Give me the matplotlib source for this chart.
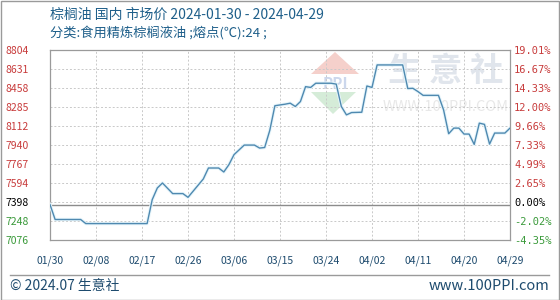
import matplotlib
matplotlib.use("Agg")
import matplotlib.pyplot as plt
import matplotlib.dates as mdates
from matplotlib.patches import Polygon, Rectangle
import numpy as np
import datetime as dt

plt.rcParams['font.family'] = ['Noto Sans CJK SC', 'DejaVu Sans']

# ---- data ----
start = dt.date(2024, 1, 30)
day_offsets = [0, 1, 6, 7, 19, 20, 21, 22, 24, 26, 27, 30, 31, 33, 34, 35, 36, 38, 40, 41,
               42, 43, 44, 46, 47, 48, 49, 50, 51, 52, 55, 56, 57, 58, 59, 61, 62, 63, 64, 69,
               70, 71, 72, 73, 76, 77, 78, 79, 80, 81, 82, 83, 84, 85, 86, 87, 89, 90]
prices = [7398, 7262, 7262, 7225, 7225, 7442, 7548, 7593, 7497, 7497, 7463, 7630, 7729, 7729, 7693, 7759, 7850, 7937, 7937, 7910,
          7915, 8070, 8294, 8308, 8317, 8287, 8332, 8467, 8460, 8498, 8498, 8490, 8287, 8211, 8232, 8235, 8473, 8460, 8664, 8664,
          8450, 8452, 8422, 8388, 8388, 8257, 8040, 8091, 8091, 8037, 8037, 7943, 8136, 8125, 7946, 8046, 8046, 8091]
base_value = 7398
left_labels = ["7076", "7248", "7398", "7594", "7767", "7940", "8112", "8285", "8458", "8631", "8804"]
right_labels = ["-4.35%", "-2.02%", "0.00%", "2.65%", "4.99%", "7.33%", "9.66%", "12.00%", "14.33%", "16.67%", "19.01%"]
x_labels = ["01/30", "02/08", "02/17", "02/26", "03/06", "03/15", "03/24", "04/02", "04/11", "04/20", "04/29"]
title = "棕榈油 国内 市场价 2024-01-30 - 2024-04-29"
subtitle = "分类:食用精炼棕榈液油 ;熔点(℃):24 ;"

dates = [start + dt.timedelta(days=d) for d in day_offsets]

W, H = 560, 300
fig = plt.figure(figsize=(W / 100, H / 100), dpi=100)
fig.patch.set_facecolor('white')

def fx(px):
    return px / W

def fy(py):
    return 1 - py / H

ax = fig.add_axes([fx(50), fy(240), fx(510) - fx(50), fy(49.5) - fy(240)])

ymin, ymax = 7076, 8804
ax.set_ylim(ymin, ymax)
xmin = start
xmax = start + dt.timedelta(days=90)
ax.set_xlim(mdates.date2num(xmin), mdates.date2num(xmax))

yticks = np.linspace(ymin, ymax, len(left_labels))
ax.set_yticks(yticks)
ax.set_yticklabels(left_labels)
xtick_dates = [start + dt.timedelta(days=9 * i) for i in range(len(x_labels))]
ax.set_xticks([mdates.date2num(d) for d in xtick_dates])
ax.set_xticklabels(x_labels)

ax.grid(True, color='#c9c9c9', linestyle=(0, (2, 2)), linewidth=0.7)
ax.tick_params(axis='both', length=0, labelsize=7.5)
ax.tick_params(axis='x', colors='#1e4b6e', pad=11)
ax.tick_params(axis='y', pad=32)
for lab, v in zip(ax.get_yticklabels(), left_labels):
    val = float(v)
    lab.set_horizontalalignment('left')
    lab.set_color('#000000' if abs(val - base_value) < 1 else ('#c83c3c' if val > base_value else '#3a9a3a'))
for sp in ax.spines.values():
    sp.set_color('#9a9a9a')
    sp.set_linewidth(0.9)

ax2 = ax.twinx()
ax2.set_ylim(ymin, ymax)
ax2.set_yticks(yticks)
ax2.set_yticklabels(right_labels)
ax2.tick_params(axis='y', length=0, labelsize=7.5, pad=3)
for lab, v in zip(ax2.get_yticklabels(), right_labels):
    val = float(v.strip('%'))
    lab.set_color('#000000' if val == 0 else ('#c83c3c' if val > 0 else '#3a9a3a'))
    lab.set_family(['DejaVu Sans Mono', 'DejaVu Sans'])
for sp in ax2.spines.values():
    sp.set_visible(False)

# watermark
wm_col = '#d4dae4'
fig.text(fx(446), fy(72), "生 意 社", fontsize=24, color=wm_col, ha='center', va='center',
         fontweight='bold', alpha=0.7, zorder=0)
fig.text(fx(446), fy(107), "WWW.100PPI.COM", fontsize=10.5, color='#e8e8e8', ha='center', va='center', zorder=0)
roof = Polygon([[fx(335), fy(52)], [fx(311), fy(74)], [fx(359), fy(74)]], closed=True,
               transform=fig.transFigure, facecolor='#f5d0cb', edgecolor='none', zorder=0)
green = Polygon([[fx(311), fy(92)], [fx(356), fy(92)], [fx(333), fy(114)]], closed=True,
                transform=fig.transFigure, facecolor='#d5ecd8', edgecolor='none', zorder=0)
fig.patches.extend([roof, green])
fig.text(fx(335), fy(84), "PPI", fontsize=11, color='#ccd7ec', ha='center', va='center',
         fontweight='bold', zorder=0)

ax.set_facecolor('none')
ax.set_zorder(2)
ax2.set_zorder(1)

ax.axhline(base_value, color='#8c8c8c', linewidth=1.0, zorder=2)
ax.plot(dates, prices, color='#e6f5fb', linewidth=2.4, zorder=3, solid_joinstyle='round')
ax.plot(dates, prices, color='#4f89b0', linewidth=1.0, zorder=4)

# titles
fig.text(fx(50), fy(15), title, fontsize=10, color='#1e5f8a', ha='left', va='center')
fig.text(fx(50), fy(33), subtitle, fontsize=9.5, color='#1e5f8a', ha='left', va='center')

# footer
fig.add_artist(plt.Line2D([fx(10), fx(549)], [fy(275), fy(275)], transform=fig.transFigure,
                          color='#9a9a9a', linewidth=1.0))
fig.text(fx(10), fy(286), "© 2024.07 生意社", fontsize=10, color='#1e4b6e', ha='left', va='center')
fig.text(fx(549), fy(286), "www.100PPI.com", fontsize=10.5, color='#1e4b6e', ha='right', va='center')

# outer border
fig.patches.append(Rectangle((0.5 / W, 0.5 / H), 1 - 1.5 / W, 1 - 1.5 / H, transform=fig.transFigure,
                             fill=False, edgecolor='#9a9a9a', linewidth=1.0))

fig.savefig("out.png", dpi=100, facecolor='white')
